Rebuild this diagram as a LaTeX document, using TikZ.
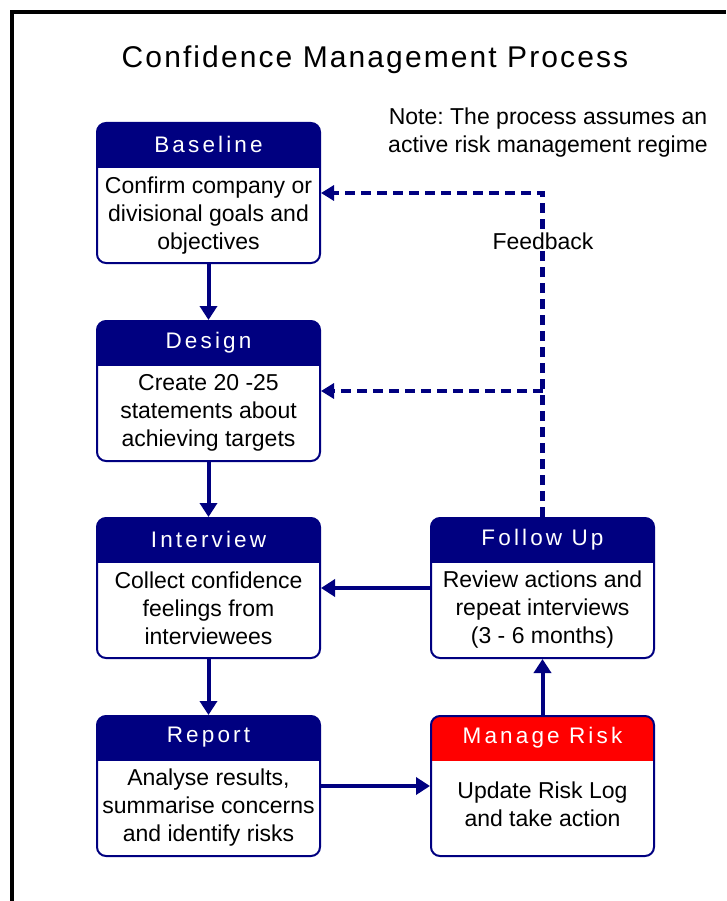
\documentclass[tikz,border=0pt]{standalone}
\usepackage{fontspec}
\setmainfont{Liberation Sans}
\newfontfamily\headfont[LetterSpace=14]{Liberation Sans}
\newfontfamily\titlefont[LetterSpace=7]{Liberation Sans}
\frenchspacing
\usetikzlibrary{arrows.meta,positioning}
\definecolor{navy}{RGB}{0,0,128}
\definecolor{riskred}{RGB}{255,0,0}
\tikzset{
	stage/.style={draw=navy,line width=2pt,rounded corners=9pt,minimum width=223pt,minimum height=140pt,inner sep=0pt,
		path picture={\fill[#1,sharp corners] (path picture bounding box.north west) rectangle ([yshift=-45pt]path picture bounding box.north east);}},
	stage/.default=navy,
	headtext/.style={text=white,font=\headfont\fontsize{22.5}{26}\selectfont},
	bodytext/.style={align=center,font=\fontsize{23}{28}\selectfont},
	flow/.style={draw=navy,line width=4pt,-{Triangle[length=14pt,width=17pt]}},
	feedback/.style={draw=navy,line width=4.5pt,dash pattern=on 10pt off 6pt,-{Triangle[length=13pt,width=15pt]}},
}
\begin{document}
\begin{tikzpicture}[x=1pt,y=-1pt]
	\useasboundingbox (0,0) rectangle (726,901);
	\draw[line width=4.5pt] (12,901) -- (12,12) -- (726,12);
	\node[font=\titlefont\fontsize{30}{36}\selectfont] (title) at (375,60) {Confidence Management Process};
	\node[bodytext] (note) at (548,133) {Note: The process assumes an\\active risk management regime};
	\node[stage] (base) at (208.5,193) {};
	\node[stage,below=56pt of base] (des) {};
	\node[stage,below=55pt of des] (int) {};
	\node[stage,below=56pt of int] (rep) {};
	\node[stage,right=109pt of int] (fol) {};
	\node[stage=riskred,right=109pt of rep] (risk) {};
	\node[headtext] (base-h) at ([yshift=-22.5pt]base.north) {Baseline};
	\node[headtext] (des-h) at ([yshift=-22.5pt]des.north) {Design};
	\node[headtext] (int-h) at ([yshift=-22.5pt]int.north) {Interview};
	\node[headtext] (rep-h) at ([yshift=-22.5pt]rep.north) {Report};
	\node[headtext] (fol-h) at ([yshift=-22.5pt]fol.north) {Follow Up};
	\node[headtext] (risk-h) at ([yshift=-22.5pt]risk.north) {Manage Risk};
	\node[bodytext] (base-b) at ([yshift=-94pt]base.north) {Confirm company or\\divisional goals and\\objectives};
	\node[bodytext] (des-b) at ([yshift=-93pt]des.north) {Create 20 -25\\statements about\\achieving targets};
	\node[bodytext] (int-b) at ([yshift=-91.5pt]int.north) {Collect confidence\\feelings from\\interviewees};
	\node[bodytext] (rep-b) at ([yshift=-92.5pt]rep.north) {Analyse results,\\summarise concerns\\and identify risks};
	\node[bodytext] (fol-b) at ([yshift=-92.5pt]fol.north) {Review actions and\\repeat interviews\\(3 - 6 months)};
	\node[bodytext] (risk-b) at ([yshift=-89.5pt]risk.north) {Update Risk Log\\and take action};
	\draw[flow] (base) -- (des);
	\draw[flow] (des) -- (int);
	\draw[flow] (int) -- (rep);
	\draw[flow] (rep) -- (risk);
	\draw[flow] (risk) -- (fol);
	\draw[flow] (fol) -- (int);
	\coordinate (fbtop) at (fol.north |- base.east);
	\coordinate (fbmid) at (fol.north |- des.east);
	\draw[feedback] (fol.north) -- (fbtop) -- (base.east);
	\draw[feedback] (fbmid) -- (des.east);
	\node[bodytext,fill=white,inner sep=2pt] (fb) at (543,241) {Feedback};
\end{tikzpicture}
\end{document}
